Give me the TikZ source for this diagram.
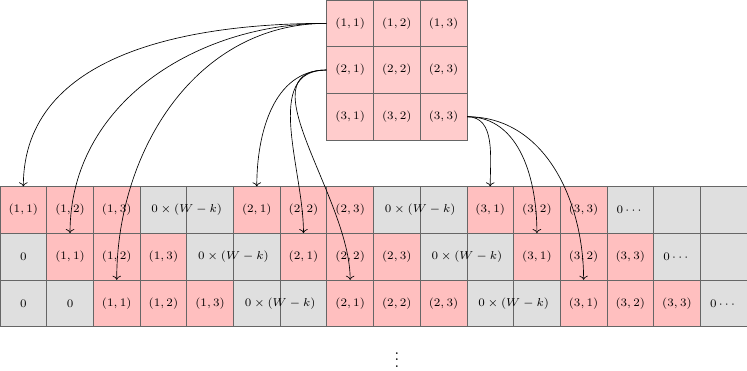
\documentclass[tikz,border=0pt]{standalone}
\usepackage{amsmath,amssymb}
\usepackage{xcolor}
\usepackage{tikz}
\usetikzlibrary{calc,positioning,arrows.meta}
\definecolor{kernfill}{RGB}{255,204,204}
\definecolor{rowfill}{RGB}{255,191,191}
\definecolor{padfill}{RGB}{223,223,223}

\begin{document}
\begin{tikzpicture}[
    cell/.style={draw=black!60, minimum size=1cm, inner sep=0pt, font=\scriptsize},
    kcell/.style={cell, fill=kernfill},
    wcell/.style={cell, fill=rowfill},
    zcell/.style={cell, fill=padfill},
    lbl/.style={inner sep=0pt, font=\scriptsize},
    map/.style={->, black}]
    \useasboundingbox (0,-0.925) rectangle (16,7);

    % kernel
    \foreach \i in {1,2,3}
      \foreach \j in {1,2,3}
        \node[kcell] (k\i\j) at (6.5+\j,7.5-\i) {$(\i,\j)$};

    % unrolled rows
    \foreach \r/\o in {1/0,2/1,3/2} {
      \foreach \c in {0,...,15}
        \node[zcell] (z\r-\c) at (\c+.5,3.5-\r) {};
      \foreach \i in {1,2,3}
        \foreach \j in {1,2,3}
          \node[wcell] (w\r-\i\j) at (\o+5*\i+\j-5.5,3.5-\r) {$(\i,\j)$};
      \foreach \i in {1,2}
        \node[lbl] (p\r-\i) at (\o+5*\i-1,3.5-\r) {$0\times(W-k)$};
      \node[lbl] (t\r) at (\o+13.5,3.5-\r) {$0\cdots$};
    }
    \node[lbl] (n2-0) at (z2-0) {$0$};
    \node[lbl] (n3-0) at (z3-0) {$0$};
    \node[lbl] (n3-1) at (z3-1) {$0$};

    % where the kernel goes
    \foreach \r in {1,2,3} {
      \draw[map] (k11.west) to[out=180,in=90] (w\r-11.north);
      \draw[map] (k21.west) to[out=180,in=90] (w\r-21.north);
      \draw[map] (k33.east) to[out=0,in=90] (w\r-31.north);
    }

    \node (more) at (8.5,-0.6) {$\vdots$};
\end{tikzpicture}
\end{document}
